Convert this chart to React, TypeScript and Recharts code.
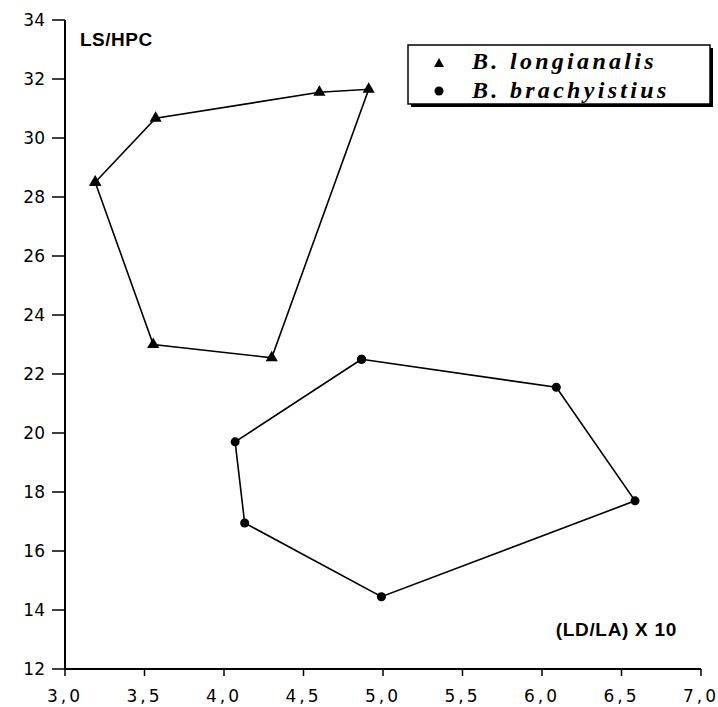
import React from 'react';
import { ScatterChart, Scatter, XAxis, YAxis, Legend, Label } from 'recharts';

// Polygon vertices (LD/LA x10, LS/HPC)
const longianalisX = [3.19, 3.57, 4.6, 4.91, 4.3, 3.555];
const longianalisY = [28.5, 30.67, 31.55, 31.65, 22.55, 23.0];
const brachyistiusX = [4.865, 6.09, 6.585, 4.99, 4.13, 4.07];
const brachyistiusY = [22.5, 21.55, 17.7, 14.45, 16.95, 19.7];

const xTicks = [3, 3.5, 4, 4.5, 5, 5.5, 6, 6.5, 7];
const yTicks = [12, 14, 16, 18, 20, 22, 24, 26, 28, 30, 32, 34];
const seriesNames = ['B. longianalis', 'B. brachyistius'];
const yAxisTitle = 'LS/HPC';
const xAxisTitle = '(LD/LA) X 10';

const closedPolygon = (xs: number[], ys: number[]) => {
  const pts = xs.map((x, i) => ({ x, y: ys[i] }));
  return [...pts, pts[0]];
};

const longianalisData = closedPolygon(longianalisX, longianalisY);
const brachyistiusData = closedPolygon(brachyistiusX, brachyistiusY);

const legendFont = {
  fontFamily: "'Liberation Serif', 'Times New Roman', serif",
  fontWeight: 'bold' as const,
  fontStyle: 'italic' as const,
  fontSize: 24,
  letterSpacing: 3.3,
  fill: '#000',
};

const renderLegend = () => (
  <svg width={312} height={68} style={{ display: 'block' }}>
    <rect x={5} y={5} width={302} height={59} fill="#000" />
    <rect x={2} y={2} width={302} height={59} fill="#fff" stroke="#000" strokeWidth={1.5} />
    <path d="M33,15 L38,24 L28,24 Z" fill="#000" />
    <circle cx={33} cy={48} r={4.5} fill="#000" />
    <text x={66} y={26} {...legendFont}>
      {seriesNames[0]}
    </text>
    <text x={66} y={55} {...legendFont}>
      {seriesNames[1]}
    </text>
  </svg>
);

const tickFont = { fill: '#000', fontSize: 17, fontFamily: "'DejaVu Sans', sans-serif" };

export default function App() {
  return (
    <div style={{ position: 'absolute', left: 0, top: 0, background: '#fff' }}>
      <ScatterChart width={718} height={707} margin={{ top: 20, right: 17, bottom: 0, left: 0 }}>
        <XAxis
          type="number"
          dataKey="x"
          domain={[3, 7]}
          ticks={xTicks}
          interval={0}
          height={38}
          tickFormatter={(v: number) => v.toFixed(1).replace('.', ',')}
          tick={{ ...tickFont, letterSpacing: 3 }}
          tickSize={7}
          tickMargin={14}
          axisLine={{ stroke: '#000', strokeWidth: 2 }}
          tickLine={{ stroke: '#000', strokeWidth: 1.5 }}
          allowDataOverflow
        >
          <Label
            content={(props: any) => {
              const vb = props.viewBox || { x: 65, y: 669, width: 636 };
              return (
                <text
                  x={vb.x + vb.width - 24}
                  y={vb.y - 33}
                  textAnchor="end"
                  fontFamily="'Liberation Sans', Arial, sans-serif"
                  fontWeight="bold"
                  fontSize={19}
                  letterSpacing={0.7}
                  fill="#000"
                >
                  {xAxisTitle}
                </text>
              );
            }}
          />
        </XAxis>
        <YAxis
          type="number"
          dataKey="y"
          domain={[12, 34]}
          ticks={yTicks}
          interval={0}
          width={65}
          tick={tickFont}
          tickSize={13}
          tickMargin={7}
          axisLine={{ stroke: '#000', strokeWidth: 2 }}
          tickLine={{ stroke: '#000', strokeWidth: 1.5 }}
          allowDataOverflow
        >
          <Label
            content={(props: any) => {
              const vb = props.viewBox || { x: 0, y: 20, width: 65 };
              return (
                <text
                  x={vb.x + vb.width + 15}
                  y={vb.y + 26}
                  fontFamily="'Liberation Sans', Arial, sans-serif"
                  fontWeight="bold"
                  fontSize={19}
                  letterSpacing={0.5}
                  fill="#000"
                >
                  {yAxisTitle}
                </text>
              );
            }}
          />
        </YAxis>
        <Legend
          layout="horizontal"
          verticalAlign="middle"
          align="center"
          wrapperStyle={{ position: 'absolute', left: 406, top: 43, width: 312, height: 68 }}
          content={renderLegend}
        />
        <Scatter
          name={seriesNames[0]}
          data={longianalisData}
          fill="#000"
          shape="triangle"
          line={{ stroke: '#000', strokeWidth: 1.6 }}
          lineType="joint"
          isAnimationActive={false}
        />
        <Scatter
          name={seriesNames[1]}
          data={brachyistiusData}
          fill="#000"
          shape="circle"
          line={{ stroke: '#000', strokeWidth: 1.6 }}
          lineType="joint"
          isAnimationActive={false}
        />
      </ScatterChart>
    </div>
  );
}
